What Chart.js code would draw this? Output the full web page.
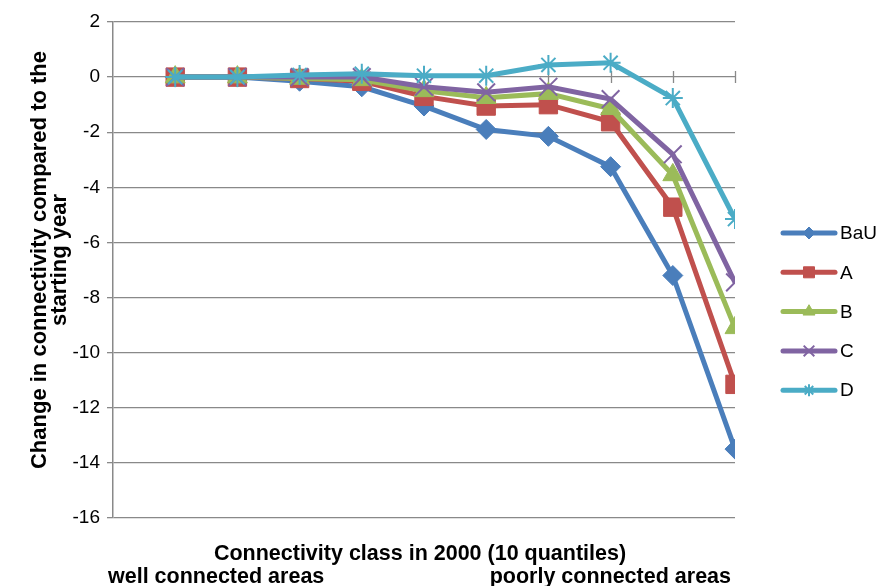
<!DOCTYPE html>
<html>
<head>
<meta charset="utf-8">
<script src="https://cdn.jsdelivr.net/npm/chart.js@4.4.0/dist/chart.umd.min.js"></script>
<style>
  body { margin: 0; background: #fff; }
</style>
</head>
<body>
<canvas id="chartConnectivity" width="883" height="586"></canvas>
<script>
// connectivity quantile classes (1 = well connected ... 10 = poorly connected)
const quantiles = [1, 2, 3, 4, 5, 6, 7, 8, 9, 10];

const seriesNames = ['BaU', 'A', 'B', 'C', 'D'];
const bauValues = [0, 0, -0.15, -0.35, -1.05, -1.9, -2.15, -3.25, -7.2, -13.5];
const aValues   = [0, 0, -0.05, -0.15, -0.7, -1.05, -1.0, -1.62, -4.72, -11.15];
const bValues   = [0, 0, -0.05, -0.1, -0.5, -0.75, -0.6, -1.15, -3.55, -9.1];
const cValues   = [0, 0, 0, 0, -0.35, -0.55, -0.35, -0.8, -2.8, -7.45];
const dValues   = [0, 0, 0.08, 0.12, 0.05, 0.05, 0.44, 0.52, -0.76, -5.15];

const yMin = -16;
const yMax = 2;
const yStep = 2;

const yTitle = ['Change in connectivity compared to the', 'starting year'];
const xTitle = 'Connectivity class in 2000 (10 quantiles)';
const xLeftNote = 'well connected areas';
const xRightNote = 'poorly connected areas';

const colors = ['#4a7ebb', '#c0504d', '#9bbb59', '#8064a2', '#4bacc6'];
const markers = ['rectRot', 'rect', 'triangle', 'crossRot', 'star'];
const markerSize = [10, 13, 11.5, 12.5, 10];

const allValues = [bauValues, aValues, bValues, cValues, dValues];

const gridColor = '#898989';
const fontFamily = '"Liberation Sans", Arial, sans-serif';

const datasets = allValues.map((vals, i) => ({
    label: seriesNames[i],
    data: quantiles.map((q, k) => ({ x: q, y: vals[k] })),
    borderColor: colors[i],
    backgroundColor: colors[i],
    borderWidth: 5,
    pointStyle: markers[i],
    pointRadius: markerSize[i],
    pointHoverRadius: markerSize[i],
    pointBorderWidth: i >= 3 ? 2 : 1,
    tension: 0,
    order: 5 - i
}));

// tick marks crossing the zero line, titles and legend
const decorations = {
    id: 'decorations',
    beforeDatasetsDraw(chart) {
        const ctx = chart.ctx;
        const xs = chart.scales.x;
        const ys = chart.scales.y;
        const y0 = ys.getPixelForValue(0);
        ctx.save();
        ctx.strokeStyle = gridColor;
        ctx.lineWidth = 1.3;
        ctx.beginPath();
        for (let q = 1; q <= quantiles.length; q++) {
            const px = Math.round(xs.getPixelForValue(q)) + 0.5;
            ctx.moveTo(px, y0 - 6);
            ctx.lineTo(px, y0 + 6);
        }
        ctx.stroke();
        ctx.restore();
    },
    afterDraw(chart) {
        const ctx = chart.ctx;
        const area = chart.chartArea;
        ctx.save();
        ctx.fillStyle = '#000';

        // y title
        ctx.font = 'bold 22px ' + fontFamily;
        ctx.textAlign = 'center';
        ctx.textBaseline = 'alphabetic';
        const midY = (area.top + area.bottom) / 2 - 10;
        ctx.save();
        ctx.translate(46, midY);
        ctx.rotate(-Math.PI / 2);
        ctx.fillText(yTitle[0], 0, 0);
        ctx.restore();
        ctx.save();
        ctx.translate(66, midY);
        ctx.rotate(-Math.PI / 2);
        ctx.fillText(yTitle[1], 0, 0);
        ctx.restore();

        // x titles
        ctx.font = 'bold 21.5px ' + fontFamily;
        ctx.fillText(xTitle, (area.left + area.right) / 2 - 4, 560);
        ctx.textAlign = 'left';
        ctx.fillText(xLeftNote, 108, 583);
        ctx.textAlign = 'right';
        ctx.fillText(xRightNote, 731, 583);

        // legend
        ctx.font = '19px ' + fontFamily;
        ctx.textAlign = 'left';
        ctx.textBaseline = 'middle';
        const legendTop = 233;
        const legendGap = 39.3;
        chart.data.datasets.forEach((ds, i) => {
            const ly = legendTop + i * legendGap;
            ctx.strokeStyle = ds.borderColor;
            ctx.fillStyle = ds.backgroundColor;
            ctx.lineWidth = 5;
            ctx.lineCap = 'round';
            ctx.beginPath();
            ctx.moveTo(783, ly);
            ctx.lineTo(835, ly);
            ctx.stroke();
            ctx.lineCap = 'butt';
            ctx.lineWidth = ds.pointBorderWidth;
            Chart.helpers.drawPoint(ctx, {
                pointStyle: ds.pointStyle,
                radius: ds.pointRadius * 0.6,
                borderWidth: ds.pointBorderWidth,
                rotation: 0
            }, 809, ly);
            ctx.fillStyle = '#000';
            ctx.fillText(ds.label, 840, ly + 1);
        });
        ctx.restore();
    }
};

const chartConnectivity = document.getElementById('chartConnectivity');

let chart = new Chart(chartConnectivity, {
    type: 'line',
    data: { datasets: datasets },
    options: {
        responsive: false,
        animation: false,
        devicePixelRatio: 1,
        layout: {
            padding: { left: 0, top: 22, right: 148, bottom: 68 }
        },
        plugins: {
            legend: { display: false },
            tooltip: { enabled: false }
        },
        scales: {
            x: {
                type: 'linear',
                min: 0,
                max: quantiles.length,
                display: false
            },
            y: {
                min: yMin,
                max: yMax,
                afterFit: (scale) => { scale.width = 113; },
                ticks: {
                    stepSize: yStep,
                    color: '#000',
                    padding: 7,
                    font: { family: fontFamily, size: 19 }
                },
                grid: {
                    color: gridColor,
                    lineWidth: 1.3,
                    tickLength: 6,
                    tickColor: gridColor
                },
                border: { color: gridColor, width: 1.5 }
            }
        }
    },
    plugins: [decorations]
});
</script>
</body>
</html>
